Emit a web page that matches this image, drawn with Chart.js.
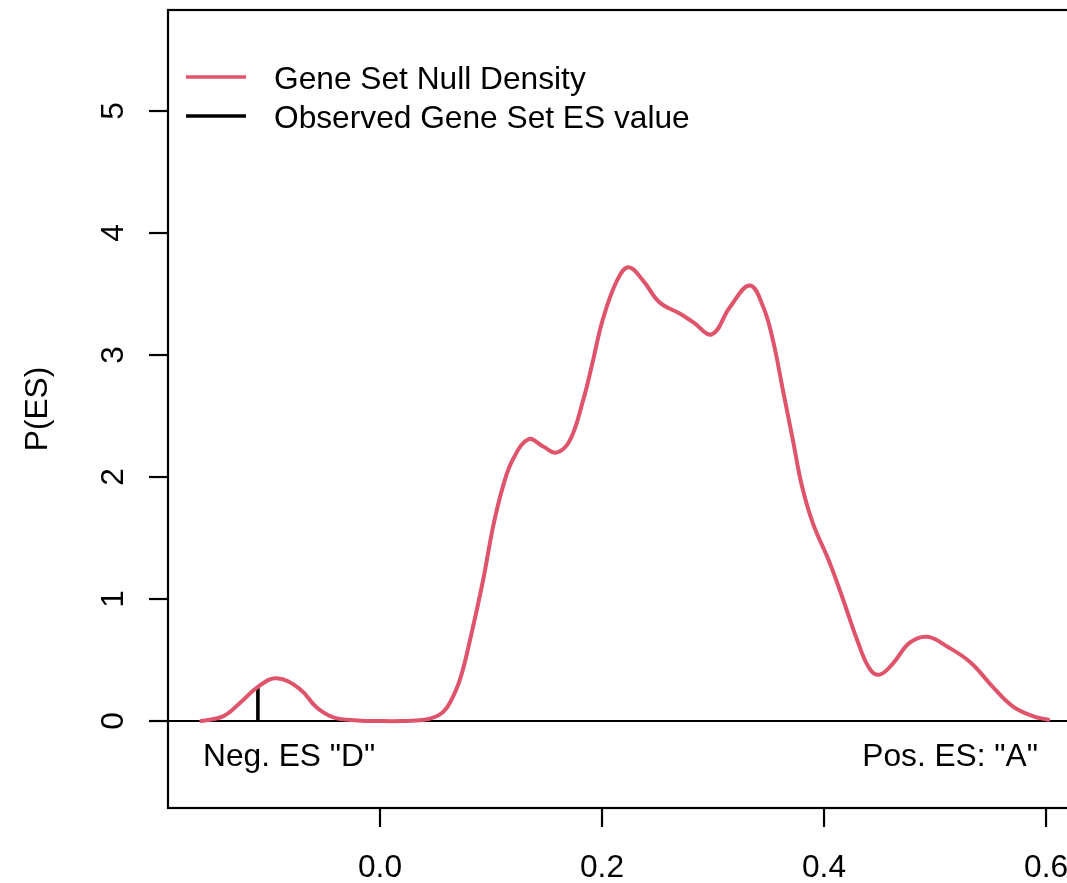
<!DOCTYPE html>
<html>
<head>
<meta charset="utf-8">
<script src="https://cdn.jsdelivr.net/npm/chart.js@4/dist/chart.umd.min.js"></script>
<style>
html,body{margin:0;padding:0;background:#fff;}
#wrap{width:1067px;height:883px;overflow:hidden;position:relative;background:#fff;}
canvas{display:block;}
</style>
</head>
<body>
<div id="wrap"><canvas id="c" width="1100" height="883"></canvas></div>
<script>
// ---- data ----
const esValues = [-0.161,-0.141,-0.126,-0.110,-0.093,-0.072,-0.057,-0.042,-0.020,0.000,
  0.020,0.040,0.050,0.057,0.063,0.072,0.081,0.093,0.102,0.111,
  0.120,0.134,0.147,0.159,0.171,0.183,0.191,0.201,0.214,0.224,
  0.237,0.252,0.270,0.282,0.299,0.315,0.333,0.345,0.354,0.363,
  0.372,0.380,0.390,0.405,0.417,0.430,0.441,0.450,0.462,0.477,
  0.493,0.511,0.532,0.552,0.570,0.588,0.602];
const densityValues = [0.00,0.04,0.15,0.28,0.35,0.26,0.11,0.03,0.005,0.00,
  0.00,0.01,0.035,0.075,0.15,0.34,0.66,1.16,1.60,1.93,
  2.15,2.31,2.25,2.20,2.30,2.63,2.92,3.30,3.62,3.72,
  3.61,3.43,3.34,3.27,3.17,3.39,3.57,3.40,3.12,2.71,
  2.30,1.93,1.62,1.30,1.00,0.66,0.43,0.38,0.47,0.64,
  0.69,0.61,0.48,0.28,0.12,0.04,0.01];
const observedES = -0.110;
const observedDensity = 0.28;
const xTicks = [0.0, 0.2, 0.4, 0.6];
const xTickLabels = ["0.0", "0.2", "0.4", "0.6"];
const yTicks = [0, 1, 2, 3, 4, 5];
const yTickLabels = ["0", "1", "2", "3", "4", "5"];
const seriesLabels = ["Gene Set Null Density", "Observed Gene Set ES value"];
const cornerLabels = ['Neg. ES "D"', 'Pos. ES: "A"'];
const yTitle = "P(ES)";

const RED = "#DF536B";
const FONT = "31.7px 'Liberation Sans', Arial, sans-serif";

const rPlot = {
  id: 'rPlot',
  beforeDatasetsDraw(chart) {
    const ctx = chart.ctx, a = chart.chartArea;
    const ys = chart.scales.y;
    ctx.save();
    ctx.strokeStyle = "#000";
    ctx.lineWidth = 1.8;
    const y0 = ys.getPixelForValue(0);
    ctx.beginPath(); ctx.moveTo(a.left, y0); ctx.lineTo(a.right, y0); ctx.stroke();
    ctx.restore();
  },
  afterDraw(chart) {
    const ctx = chart.ctx, a = chart.chartArea;
    const xs = chart.scales.x, ys = chart.scales.y;
    ctx.save();
    ctx.strokeStyle = "#000";
    ctx.fillStyle = "#000";
    ctx.lineWidth = 2.2;
    // box
    ctx.strokeRect(a.left, a.top, a.right - a.left, a.bottom - a.top);
    // x ticks
    ctx.font = FONT;
    ctx.textAlign = "center";
    ctx.textBaseline = "alphabetic";
    xTicks.forEach((v, i) => {
      const px = xs.getPixelForValue(v);
      ctx.beginPath(); ctx.moveTo(px, a.bottom); ctx.lineTo(px, a.bottom + 19); ctx.stroke();
      ctx.fillText(xTickLabels[i], px, 877);
    });
    // y ticks
    yTicks.forEach((v, i) => {
      const py = ys.getPixelForValue(v);
      ctx.beginPath(); ctx.moveTo(a.left, py); ctx.lineTo(a.left - 19, py); ctx.stroke();
      ctx.save();
      ctx.translate(123, py);
      ctx.rotate(-Math.PI / 2);
      ctx.fillText(yTickLabels[i], 0, 0);
      ctx.restore();
    });
    // y title
    ctx.save();
    ctx.translate(47, (a.top + a.bottom) / 2);
    ctx.rotate(-Math.PI / 2);
    ctx.fillText(yTitle, 0, 0);
    ctx.restore();
    // corner labels
    ctx.textAlign = "left";
    ctx.fillText(cornerLabels[0], 203, 766);
    ctx.textAlign = "right";
    ctx.fillText(cornerLabels[1], 1038, 766);
    // legend
    const legY = [77, 116];
    const legCol = [RED, "#000"];
    ctx.lineWidth = 3.6;
    ctx.textAlign = "left";
    legY.forEach((ly, i) => {
      ctx.strokeStyle = legCol[i];
      ctx.beginPath(); ctx.moveTo(186, ly); ctx.lineTo(246, ly); ctx.stroke();
      ctx.fillText(seriesLabels[i], 274, ly + 11.5);
    });
    ctx.restore();
  }
};

new Chart(document.getElementById('c'), {
  type: 'line',
  data: {
    datasets: [
      {
        label: seriesLabels[0],
        data: esValues.map((x, i) => ({ x: x, y: densityValues[i] })),
        borderColor: RED,
        borderWidth: 4,
        pointRadius: 0,
        fill: false,
        tension: 0.4,
        borderCapStyle: 'round',
        borderJoinStyle: 'round'
      },
      {
        label: seriesLabels[1],
        data: [{ x: observedES, y: 0 }, { x: observedES, y: observedDensity }],
        borderColor: "#000",
        borderWidth: 3.6,
        pointRadius: 0,
        fill: false
      }
    ]
  },
  plugins: [rPlot],
  options: {
    responsive: false,
    animation: false,
    devicePixelRatio: 1,
    layout: { padding: { left: 168, top: 10, right: 18, bottom: 75 } },
    plugins: { legend: { display: false }, tooltip: { enabled: false } },
    scales: {
      x: { type: 'linear', min: -0.19099, max: 0.6324, display: false },
      y: { type: 'linear', min: -0.713, max: 5.828, display: false }
    }
  }
});
</script>
</body>
</html>
